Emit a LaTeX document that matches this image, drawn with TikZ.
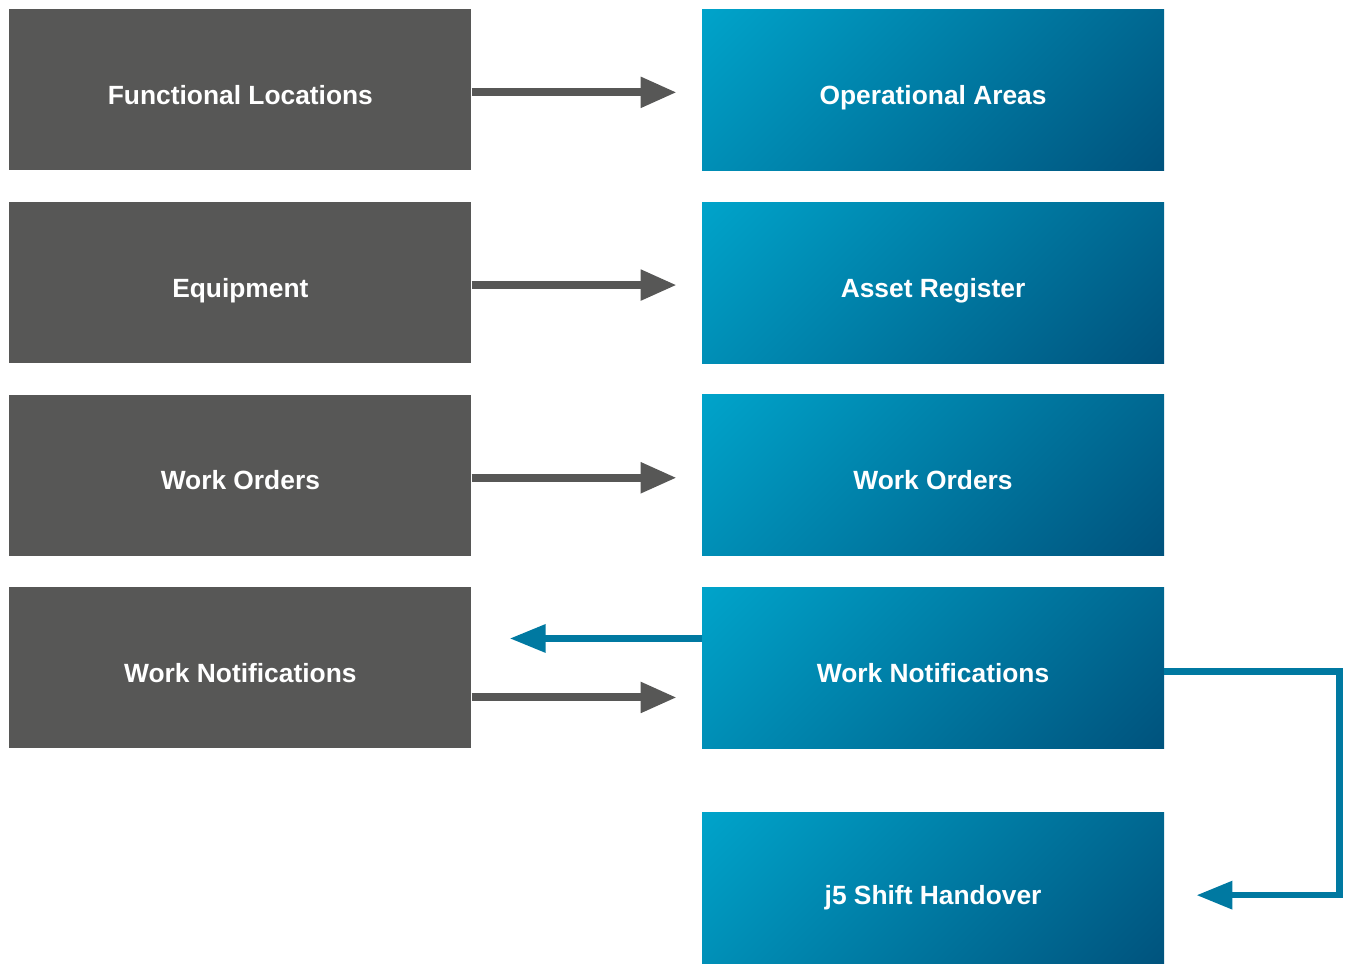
\documentclass[tikz,border=0pt]{standalone}
\usepackage{fontspec}
\setmainfont{Liberation Sans}
\usepackage{tikz}
\usetikzlibrary{positioning}
\usetikzlibrary{arrows.meta}

\definecolor{sapgray}{HTML}{575756}
\definecolor{jarrow}{HTML}{0079A1}
\definecolor{jlight}{HTML}{00B4DA}
\definecolor{jdark}{HTML}{00426D}
\pgfdeclareverticalshading{jgrad}{100bp}{color(0bp)=(jdark); color(100bp)=(jlight)}

\tikzset{
  sapbox/.style={fill=sapgray, text=white, minimum width=9.24cm, minimum height=3.22cm, inner sep=0pt, text height=0.6cm, text depth=0.02cm, font=\fontsize{15}{17}\selectfont\bfseries},
  jbox/.style={sapbox, shading=jgrad, shading angle=45},
  grayarrow/.style={line width=0.16cm, color=sapgray, -{Triangle[length=0.72cm, width=0.58cm]}},
  bluearrow/.style={line width=0.13cm, color=jarrow, -{Triangle[length=0.72cm, width=0.54cm]}}
}

\begin{document}
\begin{tikzpicture}
\useasboundingbox (0,0) rectangle (26.92,-19.28);

% source system
\node[sapbox, anchor=north west] (FuncLoc) at (0.18,-0.18) {Functional Locations};
\node[sapbox, below=0.62cm of FuncLoc] (Equip) {Equipment};
\node[sapbox, below=0.62cm of Equip] (SapOrders) {Work Orders};
\node[sapbox, below=0.62cm of SapOrders] (SapNotif) {Work Notifications};

% j5 side
\node[jbox, right=4.6cm of FuncLoc] (OpAreas) {Operational Areas};
\node[jbox, right=4.6cm of Equip] (AssetReg) {Asset Register};
\node[jbox, right=4.6cm of SapOrders] (JOrders) {Work Orders};
\node[jbox, right=4.6cm of SapNotif] (JNotif) {Work Notifications};
\node[jbox, minimum height=3.1cm, below=1.26cm of JNotif] (Handover) {j5 Shift Handover};

\draw[grayarrow, shorten >=0.5cm] ([yshift=-0.05cm]FuncLoc.east) -- ([yshift=-0.05cm]OpAreas.west);
\draw[grayarrow, shorten >=0.5cm] ([yshift=-0.05cm]Equip.east) -- ([yshift=-0.05cm]AssetReg.west);
\draw[grayarrow, shorten >=0.5cm] ([yshift=-0.05cm]SapOrders.east) -- ([yshift=-0.05cm]JOrders.west);
\draw[grayarrow, shorten >=0.5cm] ([yshift=-0.59cm]SapNotif.east) -- ([yshift=-0.59cm]JNotif.west);
\draw[bluearrow, shorten >=0.76cm] ([yshift=0.59cm]JNotif.west) -- ([yshift=0.59cm]SapNotif.east);
\draw[bluearrow, shorten >=0.64cm] ([yshift=-0.07cm]JNotif.east) -- ++(3.5,0) |- ([yshift=-0.11cm]Handover.east);
\end{tikzpicture}
\end{document}
